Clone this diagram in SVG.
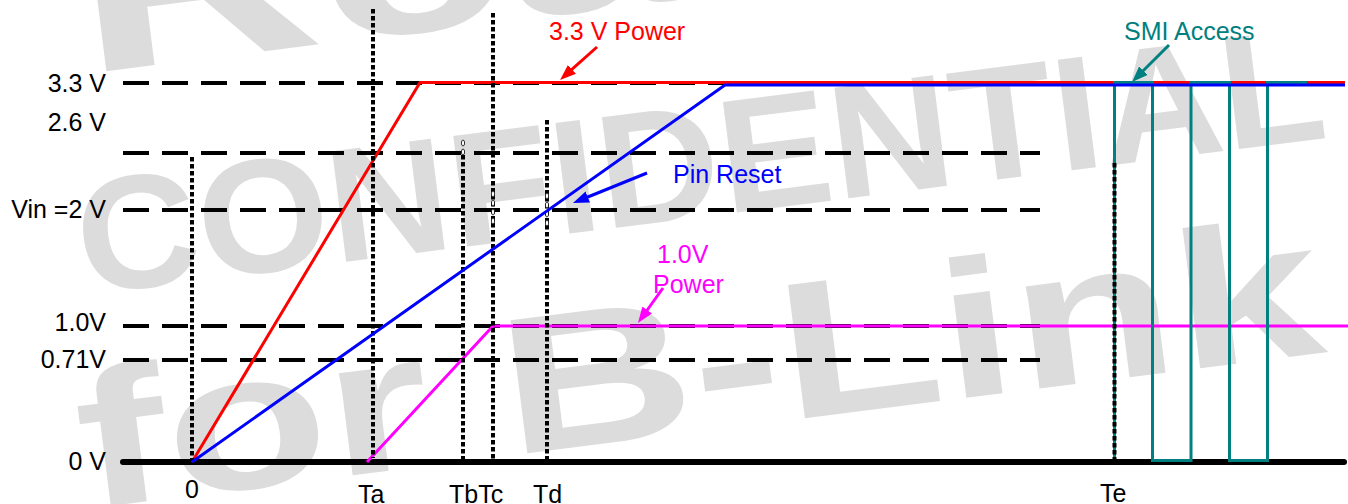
<svg xmlns="http://www.w3.org/2000/svg" width="1348" height="504" viewBox="0 0 1348 504">
<defs>
<style>
.wm{font-family:"Liberation Sans",Arial,sans-serif;font-weight:bold;fill:#dcdcdc}
.lbl{font-family:"Liberation Sans",Arial,sans-serif;font-size:25px;fill:#000}
.dash{stroke:#000;stroke-width:4;stroke-dasharray:26 13;fill:none}
.dot{stroke:#000;stroke-width:4;stroke-dasharray:4.5 2.5;fill:none}
.sig{fill:none;stroke-width:3;stroke-linejoin:miter}
.hole{fill:#fff;stroke:#000;stroke-width:0.8}
</style>
<marker id="ahR" viewBox="0 0 16 12" refX="8" refY="6" markerWidth="16" markerHeight="12" markerUnits="userSpaceOnUse" orient="auto"><path d="M0,0 L16,6 L0,12 Z" fill="#ff0000"/></marker>
<marker id="ahB" viewBox="0 0 16 12" refX="8" refY="6" markerWidth="16" markerHeight="12" markerUnits="userSpaceOnUse" orient="auto"><path d="M0,0 L16,6 L0,12 Z" fill="#0000ff"/></marker>
<marker id="ahM" viewBox="0 0 16 12" refX="8" refY="6" markerWidth="16" markerHeight="12" markerUnits="userSpaceOnUse" orient="auto"><path d="M0,0 L16,6 L0,12 Z" fill="#ff00ff"/></marker>
<marker id="ahT" viewBox="0 0 16 12" refX="8" refY="6" markerWidth="16" markerHeight="12" markerUnits="userSpaceOnUse" orient="auto"><path d="M0,0 L16,6 L0,12 Z" fill="#008080"/></marker>
</defs>
<rect width="1348" height="504" fill="#fff"/>
<g id="watermark">
<text class="wm" font-size="225" transform="translate(84,74) rotate(-7.2)" textLength="1200" lengthAdjust="spacingAndGlyphs">Realtek</text>
<text class="wm" font-size="162" transform="translate(84,295) rotate(-7.2)" textLength="1256" lengthAdjust="spacingAndGlyphs">CONFIDENTIAL</text>
<text class="wm" font-size="195" transform="translate(86,509) rotate(-7.2)" textLength="1252" lengthAdjust="spacingAndGlyphs">for B-Link</text>
</g>
<g id="levels">
<line class="dash" x1="123" y1="83" x2="1040" y2="83"/>
<line class="dash" x1="123" y1="153" x2="1040" y2="153"/>
<line class="dash" x1="123" y1="210" x2="1040" y2="210"/>
<line class="dash" x1="123" y1="326" x2="1040" y2="326"/>
<line class="dash" x1="123" y1="360" x2="1040" y2="360"/>
<line id="axis" x1="123" y1="462" x2="1344" y2="462" stroke="#000" stroke-width="6" stroke-linecap="round"/>
</g>
<g id="signal-3v3">
<polyline class="sig" stroke="#ff0000" points="192,462 420,82.5 1345,82.5"/>
</g>
<g id="signal-1v0">
<polyline class="sig" stroke="#ff00ff" points="367,462 493,326 1348,326"/>
</g>
<g id="timing-marks">
<line class="dot" x1="192" y1="157" x2="192" y2="461"/>
<line class="dot" x1="373" y1="9" x2="373" y2="458"/>
<line class="dot" x1="463" y1="155" x2="463" y2="460"/>
<line class="dot" x1="493" y1="13" x2="493" y2="460"/>
<line class="dot" x1="547" y1="120" x2="547" y2="460"/>
<ellipse class="hole" cx="463" cy="143" rx="1.6" ry="3"/>
<ellipse class="hole" cx="463" cy="152" rx="1.6" ry="3"/>
<ellipse class="hole" cx="493" cy="194" rx="1.6" ry="3"/>
<ellipse class="hole" cx="493" cy="203" rx="1.6" ry="3"/>
<ellipse class="hole" cx="493" cy="212" rx="1.6" ry="3"/>
<ellipse class="hole" cx="493" cy="221" rx="1.6" ry="3"/>
<ellipse class="hole" cx="547" cy="196" rx="1.6" ry="3"/>
<ellipse class="hole" cx="547" cy="205" rx="1.6" ry="3"/>
<ellipse class="hole" cx="547" cy="214" rx="1.6" ry="3"/>
<ellipse class="hole" cx="547" cy="223" rx="1.6" ry="3"/>
</g>
<g id="signal-smi">
<polyline class="sig" stroke="#008080" points="1114.5,461 1114.5,82.5 1152.5,82.5 1152.5,460.5 1191,460.5 1191,82.5 1229.5,82.5 1229.5,460.5 1267.5,460.5 1267.5,82.5 1307,82.5"/>
<line class="dot" x1="1114.5" y1="163" x2="1114.5" y2="461"/>
</g>
<g id="signal-reset">
<polyline class="sig" stroke="#0000ff" points="192,462 725,85 1345,85" stroke-width="3.5"/>
</g>
<g id="connectors">
<line x1="597" y1="47" x2="566" y2="74.7" stroke="#ff0000" stroke-width="3" marker-end="url(#ahR)"/>
<line x1="647" y1="173" x2="580.4" y2="200" stroke="#0000ff" stroke-width="3" marker-end="url(#ahB)"/>
<line x1="663" y1="288" x2="642.6" y2="316.5" stroke="#ff00ff" stroke-width="3" marker-end="url(#ahM)"/>
<line x1="1169" y1="45" x2="1137.7" y2="76.3" stroke="#008080" stroke-width="3" marker-end="url(#ahT)"/>
</g>
<g id="y-labels" class="lbl" text-anchor="end">
<text x="106" y="92">3.3 V</text>
<text x="106" y="131">2.6 V</text>
<text x="106" y="218">Vin =2 V</text>
<text x="106" y="331">1.0V</text>
<text x="106" y="368">0.71V</text>
<text x="106" y="470">0 V</text>
</g>
<g id="x-labels" class="lbl">
<text x="192" y="498" text-anchor="middle">0</text>
<text x="358" y="503">Ta</text>
<text x="449" y="503">TbTc</text>
<text x="533" y="503">Td</text>
<text x="1100" y="502">Te</text>
</g>
<g id="annotations" class="lbl">
<text x="549" y="40" style="fill:#ff0000">3.3 V Power</text>
<text x="673" y="183" style="fill:#0000ff">Pin Reset</text>
<text x="657" y="263" style="fill:#ff00ff">1.0V</text>
<text x="653" y="293" style="fill:#ff00ff">Power</text>
<text x="1124" y="40" style="fill:#008080">SMI Access</text>
</g>
</svg>
